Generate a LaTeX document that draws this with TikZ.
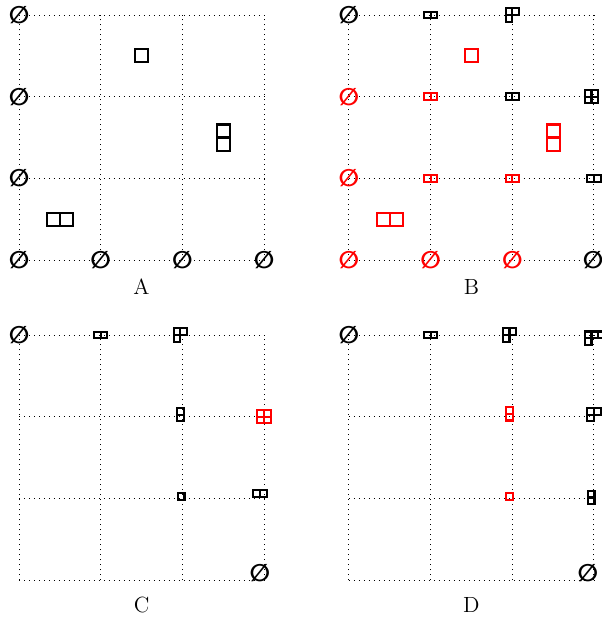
\documentclass[tikz,border=0pt]{standalone}
\usepackage{fontspec}
\newfontfamily\dvfont{DejaVu Sans}

\tikzset{
  gridline/.style={dotted, line width=0.5pt},
  nullset/.style={font=\fontsize{12}{12}\dvfont\bfseries, inner sep=0pt},
  bigcell/.style={scale=0.16, line width=1.1pt},
  smallcell/.style={scale=0.082, line width=1.1pt},
  caption/.style={font=\fontsize{11}{13}\selectfont}
}

% #1 options, #2 centre, #3 row lengths from the top
\newcommand{\young}[3]{%
  \foreach \len [count=\r] in {#3} {\xdef\ydrows{\r}}
  \foreach \len [count=\r] in {#3} {\ifnum\r=1 \xdef\ydcols{\len}\fi}
  \begin{scope}[shift={#2}, #1]
    \foreach \len [count=\r] in {#3}
      \foreach \c in {1,...,\len}
        \draw (\c-1-\ydcols/2, \ydrows/2-\r+1) rectangle ++(1,-1);
  \end{scope}
}

\begin{document}
\begin{tikzpicture}[scale=1.4365]
            \useasboundingbox (-0.233,-4.371) rectangle (7.138,3.184);
            % A
            \draw[gridline] (0,0) grid[step=1] (3,3);
            \node[nullset] (a03) at (0,3) {∅};
            \node[nullset] (a02) at (0,2) {∅};
            \node[nullset] (a01) at (0,1) {∅};
            \node[nullset] (a00) at (0,0) {∅};
            \node[nullset] (a10) at (1,0) {∅};
            \node[nullset] (a20) at (2,0) {∅};
            \node[nullset] (a30) at (3,0) {∅};
            \young{bigcell}{(1.5,2.5)}{1}
            \young{bigcell}{(2.5,1.5)}{1,1}
            \young{bigcell}{(0.5,0.5)}{2}
            \node[caption] (la) at (1.5,-0.33) {A};
            % B
            \begin{scope}[shift={(4.04,0)}]
            \draw[gridline] (0,0) grid[step=1] (3,3);
            \node[nullset] (b03) at (0,3) {∅};
            \node[nullset, red] (b02) at (0,2) {∅};
            \node[nullset, red] (b01) at (0,1) {∅};
            \node[nullset, red] (b00) at (0,0) {∅};
            \node[nullset, red] (b10) at (1,0) {∅};
            \node[nullset, red] (b20) at (2,0) {∅};
            \node[nullset] (b30) at (2.99,0) {∅};
            \young{smallcell}{(1,3)}{2}
            \young{smallcell}{(2,3)}{2,1}
            \young{smallcell, red}{(1,2)}{2}
            \young{smallcell}{(2,2)}{2}
            \young{smallcell}{(2.97,2)}{2,2}
            \young{smallcell, red}{(1,1)}{2}
            \young{smallcell, red}{(2,1)}{2}
            \young{smallcell}{(3,1)}{2}
            \young{bigcell, red}{(1.5,2.5)}{1}
            \young{bigcell, red}{(2.5,1.5)}{1,1}
            \young{bigcell, red}{(0.5,0.5)}{2}
            \node[caption] (lb) at (1.5,-0.33) {B};
            \end{scope}
            % C
            \begin{scope}[shift={(0,-3.918)}]
            \draw[gridline] (0,0) grid[step=1] (3,3);
            \node[nullset] (c03) at (0,3) {∅};
            \node[nullset] (c30) at (2.95,0.085) {∅};
            \young{smallcell}{(1,3)}{2}
            \young{smallcell}{(1.975,3)}{2,1}
            \young{smallcell}{(1.975,2.025)}{1,1}
            \young{smallcell, red}{(3,2)}{2,2}
            \young{smallcell}{(1.985,1.02)}{1}
            \young{smallcell}{(2.95,1.06)}{2}
            \node[caption] (lc) at (1.5,-0.31) {C};
            \end{scope}
            % D
            \begin{scope}[shift={(4.04,-3.918)}]
            \draw[gridline] (0,0) grid[step=1] (3,3);
            \node[nullset] (d03) at (0,3) {∅};
            \node[nullset] (d30) at (2.925,0.085) {∅};
            \young{smallcell}{(1,3)}{2}
            \young{smallcell}{(1.965,3)}{2,1}
            \young{smallcell}{(3.01,2.96)}{3,1}
            \young{smallcell, red}{(1.965,2.035)}{1,1}
            \young{smallcell}{(3,2.025)}{2,1}
            \young{smallcell, red}{(1.965,1.025)}{1}
            \young{smallcell}{(2.965,1.01)}{1,1}
            \node[caption] (ld) at (1.5,-0.31) {D};
            \end{scope}
\end{tikzpicture}
\end{document}
